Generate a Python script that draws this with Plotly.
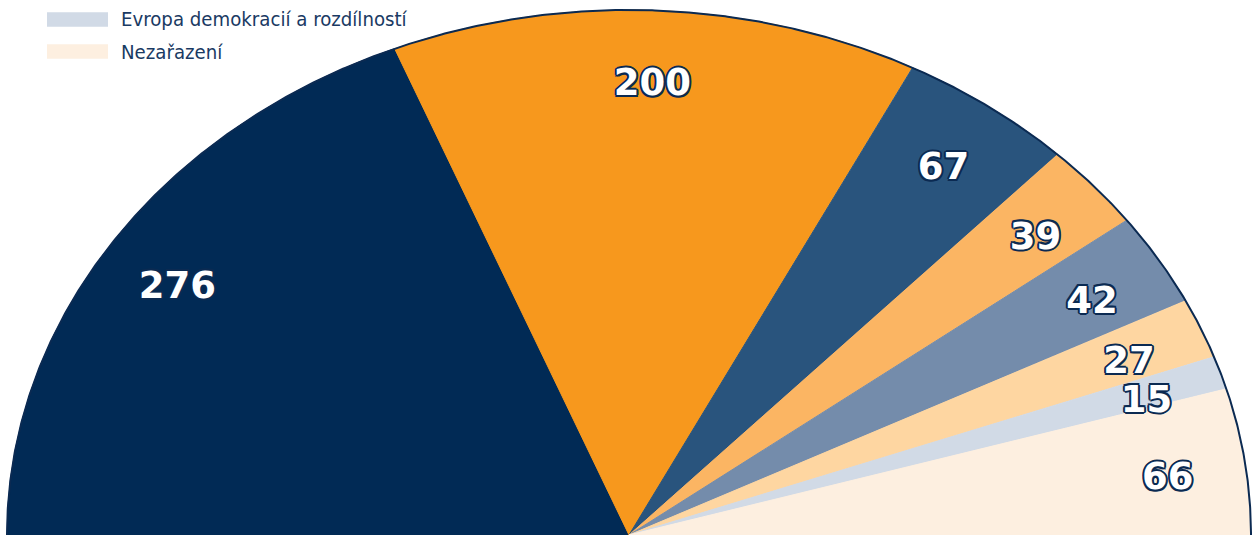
import numpy as np
import plotly.graph_objects as go

# ---- data ----
groups = [
    "Evropská lidová strana (Křesťanští demokraté) a Evropští demokraté",
    "Strana evropských socialistů",
    "Evropská liberální, demokratická a reformní strana",
    "Zelení / Evropská svobodná aliance",
    "Evropská sjednocená levice / Severská zelená levice",
    "Unie pro Evropu národů",
    "Evropa demokracií a rozdílností",
    "Nezařazení",
]
seats = [276, 200, 67, 39, 42, 27, 15, 66]
colors = ["#012a55", "#f7981d", "#29547d", "#fbb563",
          "#748cab", "#fed6a1", "#d1dae6", "#fdefe0"]

W, H = 1252, 535
NAVY = "#0b2a52"
TEXT = "#1a3a63"

total = sum(seats)
cum = np.concatenate([[0], np.cumsum(seats)])
theta = np.pi * (1 - cum / total)  # start on the left, go clockwise

cx, r_x, r_y = 629, 622, 525

fig = go.Figure()

for i, (name, val, col) in enumerate(zip(groups, seats, colors)):
    th = np.linspace(theta[i], theta[i + 1], 240)
    xs = np.concatenate([[0], np.cos(th), [0]])
    ys = np.concatenate([[0], np.sin(th), [0]])
    fig.add_trace(go.Scatter(
        x=xs, y=ys, mode="lines", fill="toself", fillcolor=col,
        line=dict(color=col, width=1), name=name, showlegend=False,
        hoverinfo="skip"))

# outer outline
tho = np.linspace(np.pi, 0, 800)
fig.add_trace(go.Scatter(x=np.cos(tho), y=np.sin(tho), mode="lines",
                         line=dict(color=NAVY, width=2), showlegend=False,
                         hoverinfo="skip"))

# value labels
mid = (theta[:-1] + theta[1:]) / 2
lr = 0.875
sh = ", ".join(f"{dx}px {dy}px 0 {NAVY}" for dx, dy in
               [(2, 0), (-2, 0), (0, 2), (0, -2), (1.5, 1.5), (-1.5, 1.5), (1.5, -1.5), (-1.5, -1.5)])
fig.add_trace(go.Scatter(
    x=lr * np.cos(mid), y=lr * np.sin(mid) - 10 / r_y, mode="text",
    text=[str(v) for v in seats], textposition="middle center",
    textfont=dict(family="DejaVu Sans", size=37, color="white", weight="bold", shadow=sh),
    showlegend=False, hoverinfo="skip"))

# custom legend (top part cut by the frame)
shapes, annos = [], []
n = len(groups)
for i, (name, col) in enumerate(zip(groups, colors)):
    cy = 51.5 - 32 * (n - 1 - i)
    shapes.append(dict(type="rect", xref="paper", yref="paper",
                       x0=47 / W, x1=108 / W, y0=1 - (cy + 7.2) / H, y1=1 - (cy - 7.2) / H,
                       fillcolor=col, line=dict(width=0)))
    annos.append(dict(xref="paper", yref="paper", x=119 / W, y=1 - cy / H,
                      xanchor="left", yanchor="middle", showarrow=False, text=name,
                      font=dict(family="DejaVu Sans Condensed", size=20.2, color=TEXT)))

fig.update_layout(
    width=W, height=H, margin=dict(l=0, r=0, t=0, b=0),
    paper_bgcolor="white", plot_bgcolor="white",
    xaxis=dict(range=[-cx / r_x, (W - cx) / r_x], visible=False, fixedrange=True),
    yaxis=dict(range=[0, H / r_y], visible=False, fixedrange=True),
    shapes=shapes, annotations=annos, showlegend=False,
)

fig.write_html("out.html", config={"displayModeBar": False},
               post_script="document.body.style.margin='0';document.body.style.overflow='hidden';")
